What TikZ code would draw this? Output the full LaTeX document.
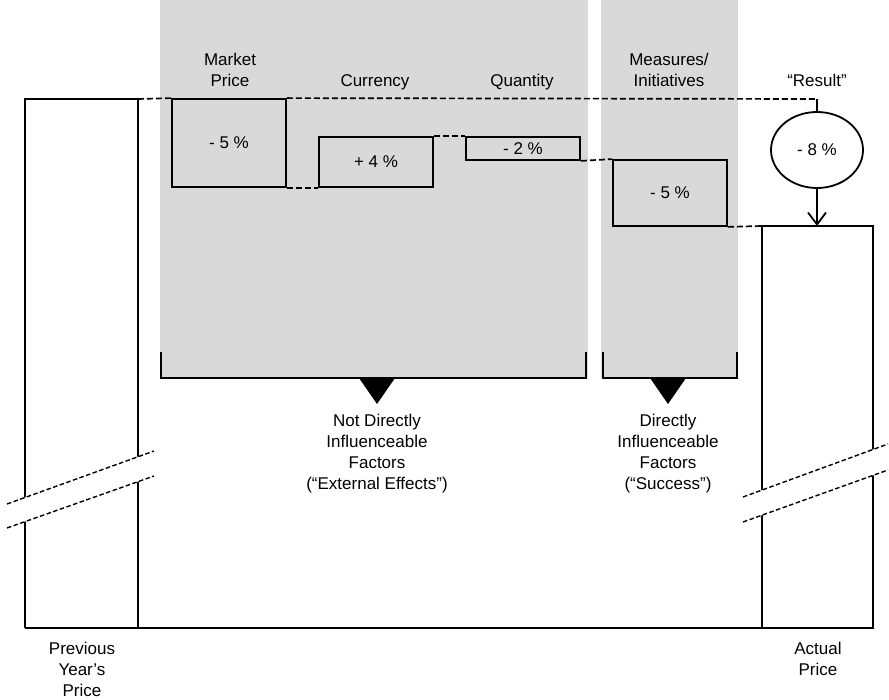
\documentclass[tikz,border=0pt]{standalone}
\usepackage{fontspec}
\setmainfont{Liberation Sans}
\usetikzlibrary{arrows.meta,shapes.geometric}
\definecolor{panelgray}{RGB}{217,217,217}
\begin{document}
\begin{tikzpicture}[x=1pt,y=-1pt,
  every node/.style={font=\fontsize{17}{21}\selectfont, inner sep=0pt},
  bar/.style={line width=1.8pt},
  stepbox/.style={draw, line width=1.8pt, rectangle, align=center},
  link/.style={line width=1.7pt, dash pattern=on 6pt off 3pt},
  brk/.style={line width=1.4pt, dash pattern=on 4.5pt off 2.5pt},
  brace/.style={line width=2.2pt},
  label/.style={align=center},
  pointer/.style={fill=black, draw=none}
]
% canvas
\useasboundingbox (0,0) rectangle (889,700);

% grey panels
\fill[panelgray] (160,0) rectangle (588,378);
\fill[panelgray] (601,0) rectangle (738,378);

% column headings
\node[label] (hMarket) at (230,70) {Market\\Price};
\node[label, anchor=base] (hCur) at (375,87) {Currency};
\node[label, anchor=base] (hQty) at (522,87) {Quantity};
\node[label] (hMeas) at (669,70) {Measures/\\Initiatives};
\node[label, anchor=base] (hRes) at (817,87) {“Result”};

% previous year bar and actual bar (outlines drawn piecewise)
\coordinate (pTL) at (25,99);
\coordinate (pTR) at (138,99);
\coordinate (pBL) at (25,628);
\coordinate (pBR) at (138,628);
\draw[bar] (pBL) -- (pTL) -- (pTR) -- (pBR);

\coordinate (aTL) at (762,226);
\coordinate (aTR) at (873,226);
\coordinate (aBL) at (762,628);
\coordinate (aBR) at (873,628);
\draw[bar] (aBL) -- (aTL) -- (aTR) -- (aBR) -- (aBL);

% baseline
\coordinate (baseL) at (25,628);
\coordinate (baseR) at (793,628);
\draw[line width=2.2pt] (baseL) -- (baseR);

% break marks on the bars
\fill[white] (7,504) -- (154,451) -- (154,476) -- (7,528) -- cycle;
\draw[brk] (7,504) -- (154,451);
\draw[brk] (7,528) -- (154,476);
\fill[white] (743,497) -- (888,444) -- (888,470) -- (743,522) -- cycle;
\draw[brk] (743,497) -- (888,444);
\draw[brk] (743,522) -- (888,470);

% step boxes
\node[stepbox, minimum width=114pt, minimum height=88pt] (mp) at (229,143) {};
\node (mpT) at (229,143) {- 5 \%};
\node[stepbox, minimum width=114pt, minimum height=50pt] (cur) at (376,162) {+ 4 \%};
\node[stepbox, minimum width=114pt, minimum height=23pt] (qty) at (523,148.5) {- 2 \%};
\node[stepbox, minimum width=114pt, minimum height=66pt] (meas) at (670,193) {- 5 \%};

% result ellipse
\node[draw, line width=1.8pt, ellipse, minimum width=92pt, minimum height=76pt] (res) at (817,150) {- 8 \%};

% dashed step connectors
\draw[link] (pTR) -- (mp.north west);
\draw[link] (mp.north east) -- (817,99) coordinate (resTop);
\draw[line width=1.7pt] (resTop) -- (res.north);
\draw[link] (mp.south east) -- (cur.south west);
\draw[link] (cur.north east) -- (qty.north west);
\draw[link] (qty.south east) -- (meas.north west);
\draw[link] (meas.south east) -- (aTL);

% result arrow
\draw[line width=1.8pt, -{Straight Barb[length=12pt,width=18pt,line width=1.8pt]}] (res.south) -- (aTL -| res.south);

% brackets under the panels
\draw[brace] (161,352) -- (161,378) -- (586,378) -- (586,352);
\draw[brace] (603,352) -- (603,378) -- (737,378) -- (737,352);
\fill[pointer] (359,378) -- (395,378) -- (377,404) -- cycle;
\fill[pointer] (650,378) -- (686,378) -- (668,404) -- cycle;

% group captions
\node[label, anchor=north] (capExt) at (377,414) {Not Directly\\Influenceable\\Factors\\(“External Effects”)};
\node[label, anchor=north] (capInt) at (668,414) {Directly\\Influenceable\\Factors\\(“Success”)};

% bar captions
\node[label, anchor=north] (capPrev) at (82,642) {Previous\\Year’s\\Price};
\node[label, anchor=north] (capAct) at (818,642) {Actual\\Price};
\end{tikzpicture}
\end{document}
